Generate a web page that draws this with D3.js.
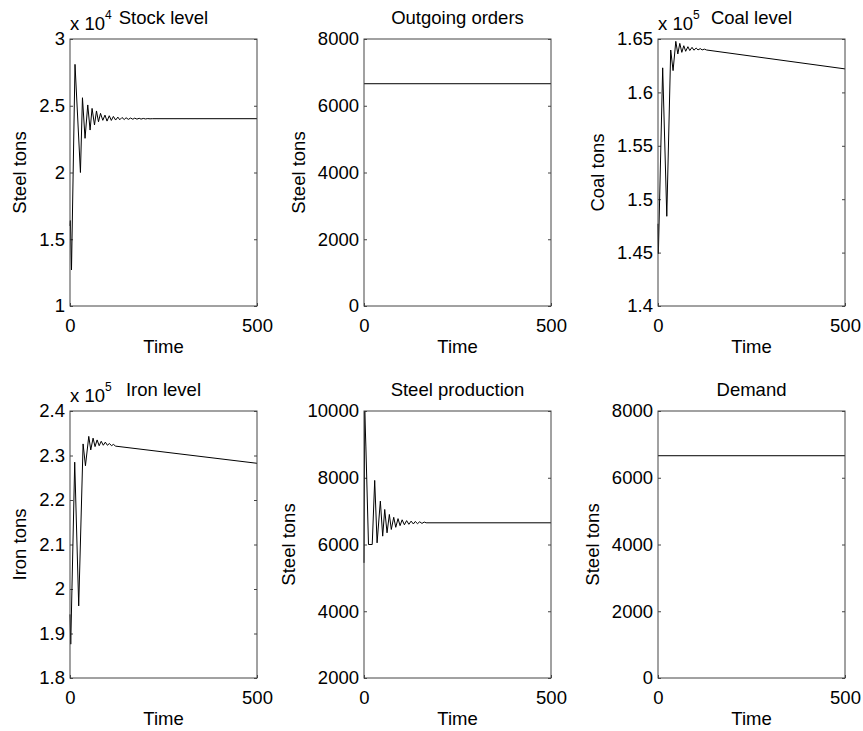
<!DOCTYPE html>
<html>
<head>
<meta charset="utf-8">
<script src="https://cdn.jsdelivr.net/npm/d3@7"></script>
<style>
  body { margin: 0; background: #fff; }
  svg { font-family: "Liberation Sans", Arial, sans-serif; }
</style>
</head>
<body>
<div id="viz-container"></div>
<script>
// Time axis
const timeDomain = [0, 500];
const timeTicks = [0, 500];

// Series as [time, tons]
const stockLevel = [
    [0, 16000], [1, 16400], [4, 12700], [13.4, 28100], [27.9, 20000], [33.3, 25600],
    [40.2, 22560], [47.5, 25060], [53.7, 23180], [59, 24800], [65.5, 23560], [70.8, 24610],
    [76.2, 23800], [81.6, 24430], [87.7, 23910], [93.5, 24300], [99, 23850], [105, 24250],
    [110.5, 23900], [116, 24200], [122, 23930], [128, 24150], [133, 23950], [139, 24120],
    [145, 23970], [150, 24100], [156, 23980], [162, 24080], [168, 23990], [173, 24070],
    [179, 24000], [185, 24060], [190, 24000], [196, 24050], [202, 24010], [208, 24040],
    [214, 24020], [220, 24030], [500, 24030]
];

const outgoingOrders = [[0, 6660], [500, 6660]];

const coalLevel = [
    [0, 147700], [1, 144900], [12.5, 162300], [23.5, 148400], [34, 163970], [40.3, 162040],
    [47.6, 164780], [53, 163600], [58.3, 164590], [63.7, 163750], [69, 164370], [74, 163850],
    [80, 164280], [85, 163920], [91, 164220], [96, 163950], [102, 164150], [107, 163980],
    [113, 164100], [118, 163980], [124, 164050], [130, 163970], [500, 162200]
];

const ironLevel = [
    [0, 194300], [2, 187600], [12.6, 228500], [23.3, 196200], [35, 232600], [41.3, 227700],
    [50.2, 234300], [55.5, 231250], [61.7, 233900], [67, 232000], [72.5, 233500], [78, 232200],
    [83.5, 233200], [89, 232300], [94.5, 233000], [100, 232300], [105.5, 232700], [111, 232200],
    [116, 232500], [122, 232100], [500, 228250]
];

const steelProduction = [
    [0, 5450], [2, 10000], [5, 8950], [12, 6000], [22, 6000], [28.6, 7920], [35, 6050],
    [43.7, 7300], [50, 6250], [55.4, 7050], [61.6, 6350], [67.8, 6900], [73, 6450],
    [79.5, 6815], [84.9, 6515], [91, 6775], [96.4, 6565], [102, 6740], [108, 6590],
    [114, 6715], [120, 6605], [126, 6700], [132, 6615], [137, 6690], [143, 6625],
    [149, 6680], [155, 6632], [161, 6672], [166, 6650], [500, 6650]
];

const demand = [[0, 6660], [500, 6660]];

// Tick values
const stockTicks = [10000, 15000, 20000, 25000, 30000];
const ordersTicks = [0, 2000, 4000, 6000, 8000];
const coalTicks = [140000, 145000, 150000, 155000, 160000, 165000];
const ironTicks = [180000, 190000, 200000, 210000, 220000, 230000, 240000];
const productionTicks = [2000, 4000, 6000, 8000, 10000];
const demandTicks = [0, 2000, 4000, 6000, 8000];

// Titles and labels
const titles = ["Stock level", "Outgoing orders", "Coal level", "Iron level", "Steel production", "Demand"];
const yLabels = ["Steel tons", "Steel tons", "Coal tons", "Iron tons", "Steel tons", "Steel tons"];
const xLabel = "Time";

const panels = [
    { data: stockLevel, ticks: stockTicks, exp: 4 },
    { data: outgoingOrders, ticks: ordersTicks, exp: 0 },
    { data: coalLevel, ticks: coalTicks, exp: 5 },
    { data: ironLevel, ticks: ironTicks, exp: 5 },
    { data: steelProduction, ticks: productionTicks, exp: 0 },
    { data: demand, ticks: demandTicks, exp: 0 }
];

// Layout
const svg = d3.select("#viz-container")
    .append("svg")
    .attr("width", 863)
    .attr("height", 731);

svg.append("rect").attr("width", 863).attr("height", 731).attr("fill", "#fff");

const colLeft = [70, 364, 658],
    rowTop = [39, 411],
    w = 187,
    h = 267,
    fontSize = 18.5;

panels.forEach((p, i) => {
    const left = colLeft[i % 3],
        top = rowTop[Math.floor(i / 3)];

    const g = svg.append("g")
        .attr("transform", `translate(${left},${top})`);

    const x = d3.scaleLinear().domain(timeDomain).range([0, w]);
    const y = d3.scaleLinear().domain(d3.extent(p.ticks)).range([h, 0]);

    const fmt = p.exp ? (d => d3.format("~g")(d / Math.pow(10, p.exp))) : d3.format("d");

    // y axis (left, labels) and right-hand ticks
    const yAxis = g.append("g")
        .call(d3.axisLeft(y).tickValues(p.ticks).tickSizeInner(-3).tickSizeOuter(0).tickPadding(5).tickFormat(fmt));

    g.append("g")
        .attr("transform", `translate(${w},0)`)
        .call(d3.axisRight(y).tickValues(p.ticks).tickSizeInner(-3).tickSizeOuter(0).tickFormat(""));

    // x axis
    g.append("g")
        .attr("transform", `translate(0,${h})`)
        .call(d3.axisBottom(x).tickValues(timeTicks).tickSizeInner(-3).tickSizeOuter(0).tickPadding(13).tickFormat(d3.format("d")));

    g.selectAll(".domain").remove();
    g.selectAll(".tick line").attr("stroke", "#444");
    g.selectAll(".tick text")
        .attr("fill", "#000")
        .attr("font-size", fontSize)
        .attr("font-family", "Liberation Sans, Arial, sans-serif");

    // line
    const line = d3.line()
        .x(d => x(d[0]))
        .y(d => y(d[1]));

    g.append("path")
        .datum(p.data)
        .attr("fill", "none")
        .attr("stroke", "#000")
        .attr("stroke-width", 1)
        .attr("d", line);

    // box
    g.append("rect")
        .attr("width", w)
        .attr("height", h)
        .attr("fill", "none")
        .attr("stroke", "#444")
        .attr("stroke-width", 1);

    // title
    g.append("text")
        .attr("x", w / 2)
        .attr("y", -15)
        .attr("text-anchor", "middle")
        .attr("font-size", fontSize)
        .text(titles[i]);

    // x label
    g.append("text")
        .attr("x", w / 2)
        .attr("y", h + 47)
        .attr("text-anchor", "middle")
        .attr("font-size", fontSize)
        .text(xLabel);

    // y label, placed left of the tick labels
    const bx = yAxis.node().getBBox().x;
    g.append("text")
        .attr("transform", `translate(${bx - 13},${h / 2}) rotate(-90)`)
        .attr("text-anchor", "middle")
        .attr("font-size", fontSize)
        .text(yLabels[i]);

    // exponent
    if (p.exp) {
        const t = g.append("text")
            .attr("x", 0)
            .attr("y", -9)
            .attr("font-size", fontSize)
            .text("x 10");
        t.append("tspan")
            .attr("dy", -11)
            .attr("font-size", 12)
            .text(p.exp);
    }
});
</script>
</body>
</html>
